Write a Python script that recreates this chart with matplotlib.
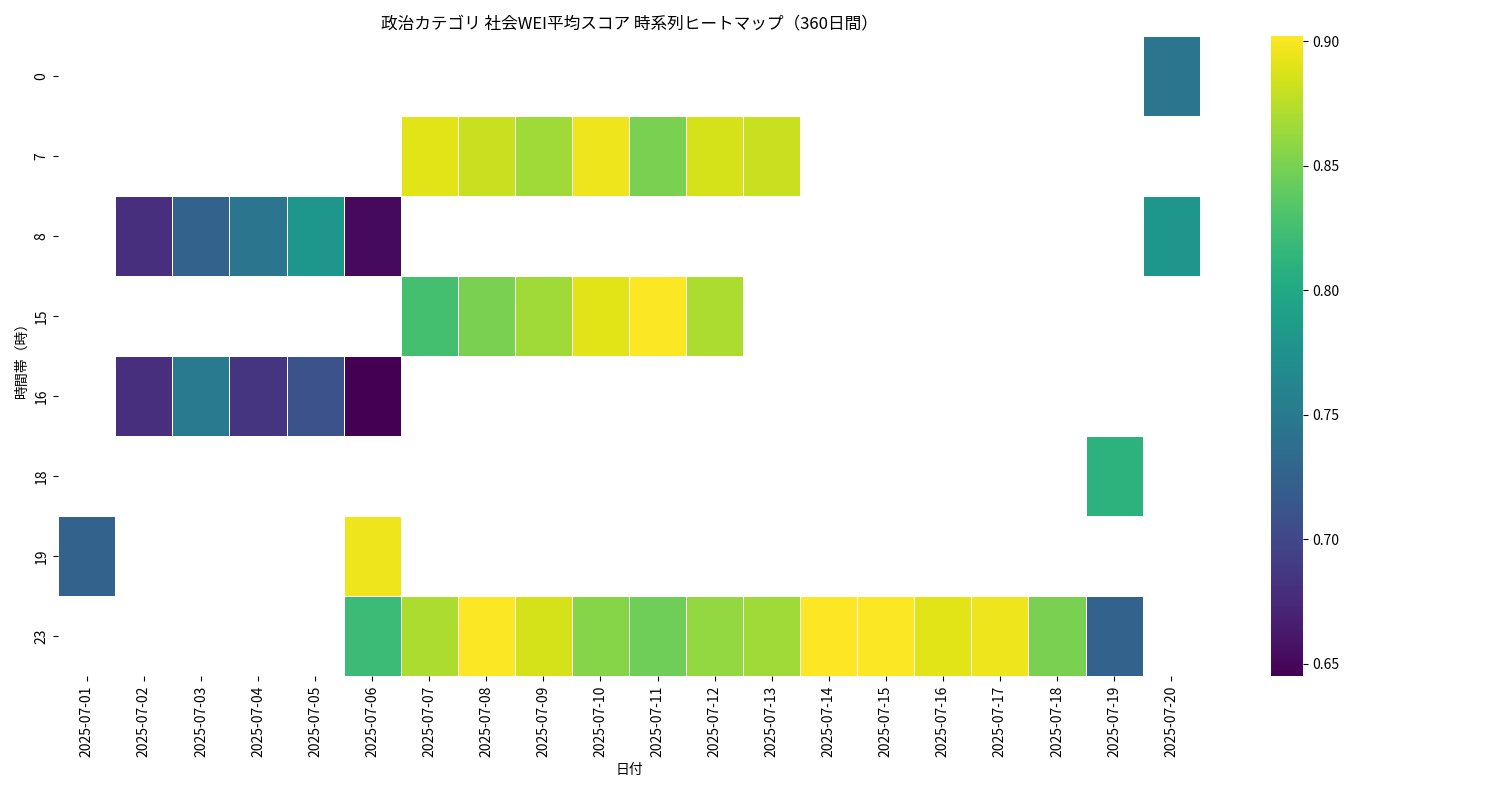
import numpy as np
import pandas as pd
import matplotlib
matplotlib.use("Agg")
import matplotlib.pyplot as plt
import seaborn as sns

plt.rcParams["font.family"] = "Noto Sans CJK JP"

dates = ["2025-07-%02d" % d for d in range(1, 21)]
hours = [0, 7, 8, 15, 16, 18, 19, 23]

# date index (1-based) -> score, one dict per hour row
row_0 = {20: 0.745}
row_7 = {7: 0.89, 8: 0.88, 9: 0.865, 10: 0.895, 11: 0.85, 12: 0.885, 13: 0.88}
row_8 = {2: 0.68, 3: 0.725, 4: 0.745, 5: 0.78, 6: 0.652, 20: 0.78}
row_15 = {7: 0.825, 8: 0.85, 9: 0.865, 10: 0.89, 11: 0.90, 12: 0.87}
row_16 = {2: 0.68, 3: 0.75, 4: 0.685, 5: 0.71, 6: 0.645}
row_18 = {19: 0.81}
row_19 = {1: 0.725, 6: 0.895}
row_23 = {6: 0.82, 7: 0.87, 8: 0.90, 9: 0.885, 10: 0.855, 11: 0.845, 12: 0.86,
          13: 0.865, 14: 0.902, 15: 0.90, 16: 0.89, 17: 0.895, 18: 0.85, 19: 0.725}

rows = [row_0, row_7, row_8, row_15, row_16, row_18, row_19, row_23]
data = pd.DataFrame(np.nan, index=hours, columns=dates)
for h, r in zip(hours, rows):
    for d, v in r.items():
        data.loc[h, dates[d - 1]] = v

fig, ax = plt.subplots(figsize=(15, 8), dpi=100)
sns.heatmap(data, cmap="viridis", linewidths=0.5, linecolor="white", ax=ax)
ax.set_title("政治カテゴリ 社会WEI平均スコア 時系列ヒートマップ（360日間）")
ax.set_xlabel("日付")
ax.set_ylabel("時間帯（時）")
plt.setp(ax.get_xticklabels(), rotation=90)
plt.tight_layout()
plt.subplots_adjust(bottom=0.155)
plt.savefig("out.png")
